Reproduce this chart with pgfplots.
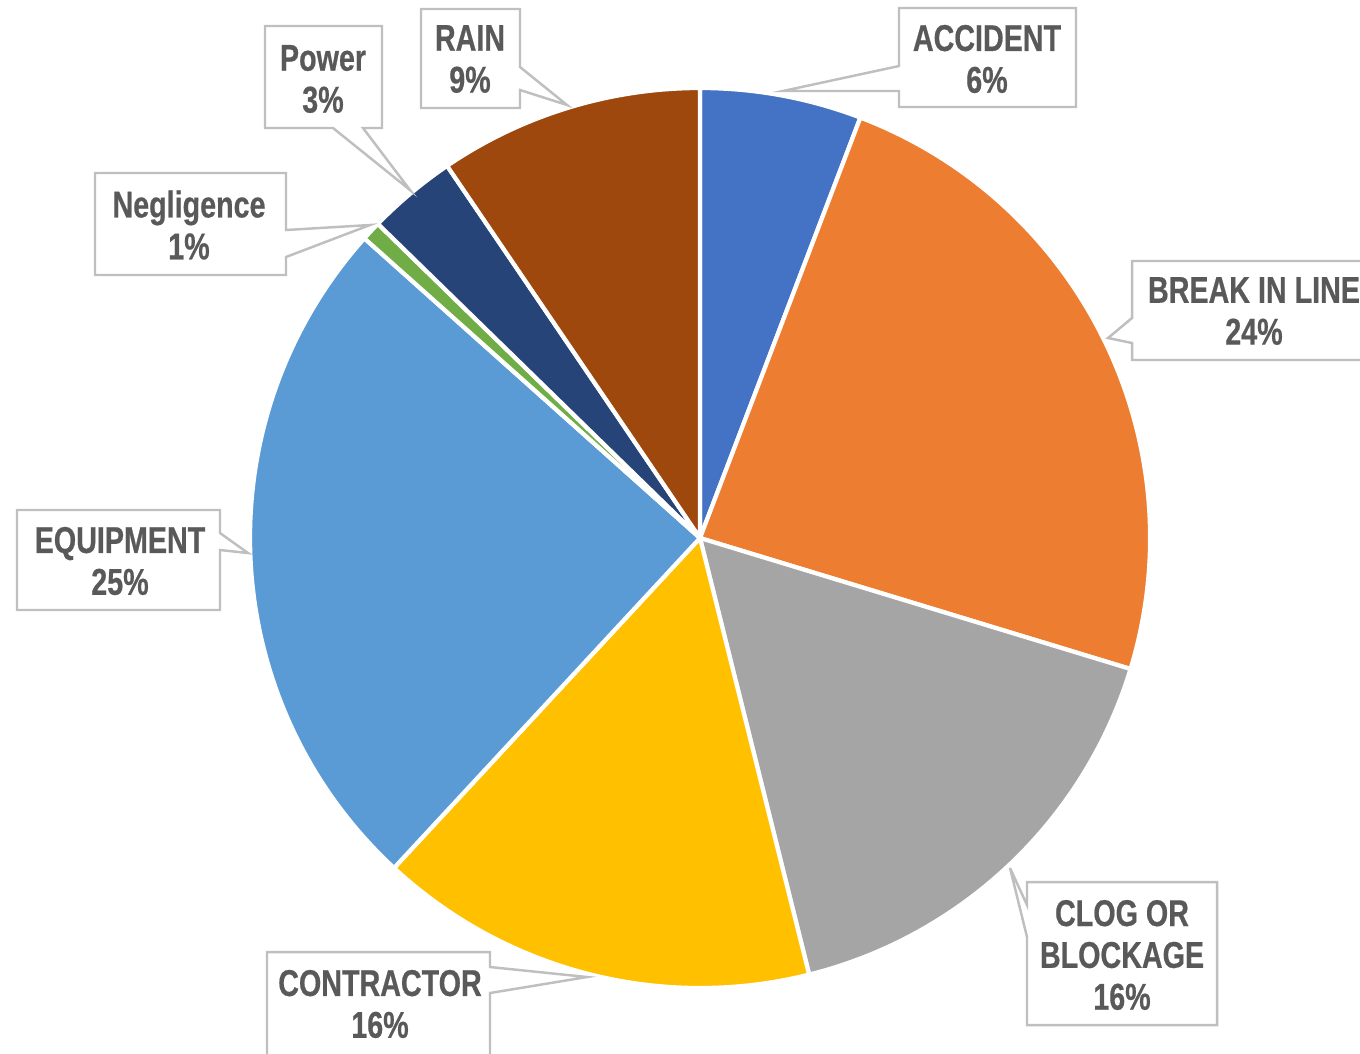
\documentclass[border=0pt]{standalone}
\usepackage{fontspec}
\setmainfont{Liberation Sans}[FakeStretch=0.77, BoldFeatures={FakeBold=0.5}]
\usepackage{pgfplots}
\pgfplotsset{compat=1.18}
\definecolor{cAcc}{HTML}{4472C4}
\definecolor{cBrk}{HTML}{ED7D31}
\definecolor{cClg}{HTML}{A5A5A5}
\definecolor{cCon}{HTML}{FFC000}
\definecolor{cEqu}{HTML}{5B9BD5}
\definecolor{cNeg}{HTML}{70AD47}
\definecolor{cPow}{HTML}{264478}
\definecolor{cRai}{HTML}{9E480E}
\definecolor{txt}{HTML}{595959}
\definecolor{bord}{HTML}{BFBFBF}
\begin{document}
\begin{tikzpicture}
\begin{axis}[scale only axis, width=13.6cm, height=10.53cm,
  xmin=0, xmax=1360, ymin=0, ymax=1053, y dir=reverse,
  hide axis, clip=false]
\pgfplotsextra{
  \gdef\cum{0}
  \foreach \v/\c in {5.8/cAcc, 23.9/cBrk, 16.4/cClg, 15.8/cCon, 24.7/cEqu, 0.7/cNeg, 3.2/cPow, 9.5/cRai}{
    \pgfmathsetmacro\a{90-3.6*\cum}
    \pgfmathsetmacro\b{90-3.6*(\cum+\v)}
    \fill[\c, draw=white, line width=1.2pt, line join=round] (axis cs:700,538) -- ++(\a:4.5cm) arc[start angle=\a, end angle=\b, radius=4.5cm] -- cycle;
    \pgfmathsetmacro\n{\cum+\v}\xdef\cum{\n}
  }
}
\tikzset{callout/.style={draw=bord, fill=white, line width=0.7pt},
  lab/.style={text=txt, align=center, font=\fontsize{10.6}{11.9}\selectfont\bfseries}}
% ACCIDENT
\draw[callout] (axis cs:899,8) -- (axis cs:1076,8) -- (axis cs:1076,107) -- (axis cs:899,107) -- (axis cs:899,91) -- (axis cs:783,91) -- (axis cs:899,66) -- cycle;
\node[lab] at (axis cs:987,59) {ACCIDENT\\6\%};
% BREAK IN LINE
\draw[callout] (axis cs:1132,261) -- (axis cs:1370,261) -- (axis cs:1370,360) -- (axis cs:1132,360) -- (axis cs:1132,343) -- (axis cs:1108,338) -- (axis cs:1132,318) -- cycle;
\node[lab] at (axis cs:1254,311) {BREAK IN LINE\\24\%};
% CLOG
\draw[callout] (axis cs:1027,882) -- (axis cs:1217,882) -- (axis cs:1217,1025) -- (axis cs:1027,1025) -- (axis cs:1027,937) -- (axis cs:1010,868) -- (axis cs:1027,905) -- cycle;
\node[lab] at (axis cs:1122,955) {CLOG OR\\BLOCKAGE\\16\%};
% CONTRACTOR
\draw[callout] (axis cs:267,952) -- (axis cs:490,952) -- (axis cs:490,967) -- (axis cs:587,977) -- (axis cs:490,993) -- (axis cs:490,1065) -- (axis cs:267,1065) -- cycle;
\node[lab] at (axis cs:380,1004) {CONTRACTOR\\16\%};
% EQUIPMENT
\draw[callout] (axis cs:17,510) -- (axis cs:220,510) -- (axis cs:220,533) -- (axis cs:248,553) -- (axis cs:220,550) -- (axis cs:220,610) -- (axis cs:17,610) -- cycle;
\node[lab] at (axis cs:120,561) {EQUIPMENT\\25\%};
% Negligence
\draw[callout] (axis cs:95,173) -- (axis cs:286,173) -- (axis cs:286,230) -- (axis cs:370,225) -- (axis cs:286,257) -- (axis cs:286,275) -- (axis cs:95,275) -- cycle;
\node[lab] at (axis cs:189,225) {Negligence\\1\%};
% Power
\draw[callout] (axis cs:265,26) -- (axis cs:382,26) -- (axis cs:382,128) -- (axis cs:363,128) -- (axis cs:410,190) -- (axis cs:333,128) -- (axis cs:265,128) -- cycle;
\node[lab] at (axis cs:323,79) {Power\\3\%};
% RAIN
\draw[callout] (axis cs:421,9) -- (axis cs:520,9) -- (axis cs:520,67) -- (axis cs:567,105) -- (axis cs:520,90) -- (axis cs:520,108) -- (axis cs:421,108) -- cycle;
\node[lab] at (axis cs:470,59) {RAIN\\9\%};
\end{axis}
\pgfresetboundingbox
\useasboundingbox (0,0) rectangle (13.6cm,10.53cm);
\end{tikzpicture}
\end{document}
